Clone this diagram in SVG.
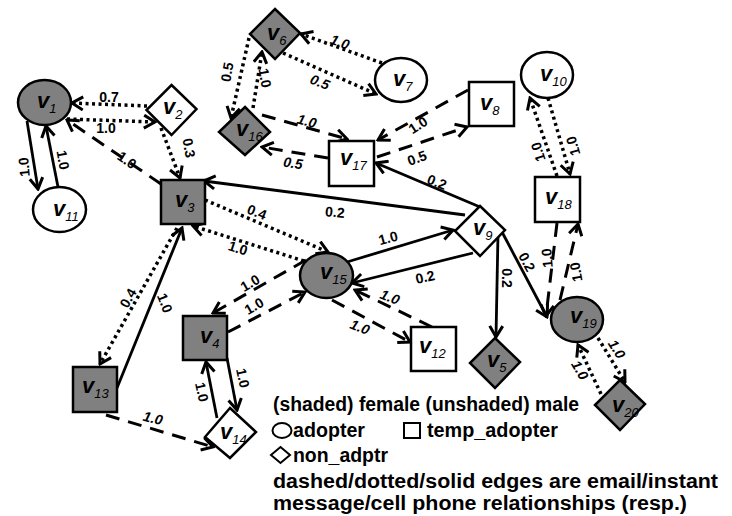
<svg xmlns="http://www.w3.org/2000/svg" width="732" height="516" viewBox="0 0 732 516">
  <style>
    .e { fill: none; stroke: #000; }
    .dash { stroke-width: 3; stroke-dasharray: 14 9; }
    .dot { stroke-width: 3.5; stroke-dasharray: 3 3.5; }
    .sol { stroke-width: 2.8; }
    .lbl { font-family: "Liberation Sans", Arial, sans-serif; font-size: 14px; font-weight: bold; text-anchor: middle; fill: #000; }
    .it { font-style: italic; }
    .nd { stroke: #000; stroke-width: 2.5; }
    .f { fill: #808080; }
    .m { fill: #fff; }
    .nl { font-family: "Liberation Sans", Arial, sans-serif; font-size: 22px; font-style: italic; font-weight: bold; fill: #000; }
    .sub { font-size: 13px; font-weight: normal; }
    .lg { font-family: "Liberation Sans", Arial, sans-serif; font-size: 20px; font-weight: bold; fill: #000; }
  </style>
  <defs>
    <marker id="arr" viewBox="0 0 14 16" refX="12" refY="8" markerWidth="14" markerHeight="16" markerUnits="userSpaceOnUse" orient="auto">
      <path d="M1,1.5 L12,8 L1,14.5" fill="none" stroke="#000" stroke-width="3" stroke-dasharray="none"/>
    </marker>
  </defs>
  <rect width="732" height="516" fill="#fff"/>

  <!-- connectors -->
  <g id="edges">
    <g marker-end="url(#arr)">
      <line class="e dot" x1="147" y1="106" x2="72" y2="103"/>
      <line class="e dot" x1="67" y1="119" x2="155" y2="122"/>
      <line class="e sol" x1="27" y1="121" x2="38" y2="189"/>
      <line class="e sol" x1="58" y1="187" x2="46" y2="126"/>
      <line class="e dot" x1="161" y1="128" x2="180" y2="178"/>
      <line class="e dash" x1="161" y1="184" x2="67" y2="120"/>
      <line class="e dot" x1="249" y1="38" x2="231" y2="118"/>
      <line class="e dot" x1="253" y1="108" x2="262" y2="52"/>
      <line class="e dot" x1="382" y1="63" x2="301" y2="34"/>
      <line class="e dot" x1="283" y1="53" x2="376" y2="94"/>
      <line class="e dash" x1="262" y1="115" x2="347" y2="139"/>
      <line class="e dash" x1="328" y1="158" x2="262" y2="147"/>
      <line class="e dash" x1="468" y1="90" x2="378" y2="140"/>
      <line class="e dash" x1="377" y1="157" x2="467" y2="127"/>
      <line class="e dot" x1="548" y1="98" x2="570" y2="174"/>
      <line class="e dot" x1="557" y1="176" x2="530" y2="98"/>
      <line class="e sol" x1="480" y1="207" x2="376" y2="163"/>
      <line class="e sol" x1="465" y1="215" x2="204" y2="181"/>
      <line class="e dot" x1="205" y1="200" x2="328" y2="252"/>
      <line class="e dot" x1="304" y1="261" x2="193" y2="226"/>
      <line class="e dot" x1="177" y1="228" x2="100" y2="364"/>
      <line class="e sol" x1="117" y1="388" x2="182" y2="228"/>
      <line class="e dash" x1="106" y1="415" x2="213" y2="447"/>
      <line class="e sol" x1="217" y1="418" x2="206" y2="362"/>
      <line class="e sol" x1="227" y1="358" x2="237" y2="410"/>
      <line class="e dash" x1="306" y1="260" x2="213" y2="313"/>
      <line class="e dash" x1="228" y1="332" x2="305" y2="292"/>
      <line class="e sol" x1="347" y1="262" x2="453" y2="230"/>
      <line class="e sol" x1="473" y1="253" x2="352" y2="283"/>
      <line class="e dash" x1="432" y1="327" x2="355" y2="290"/>
      <line class="e dash" x1="332" y1="300" x2="410" y2="342"/>
      <line class="e sol" x1="498" y1="234" x2="496" y2="337"/>
      <line class="e sol" x1="502" y1="232" x2="547" y2="317"/>
      <line class="e dash" x1="557" y1="223" x2="546" y2="316"/>
      <line class="e dash" x1="560" y1="300" x2="578" y2="224"/>
      <line class="e dot" x1="601" y1="394" x2="578" y2="345"/>
      <line class="e dot" x1="598" y1="338" x2="625" y2="382"/>
    </g>
    <g id="edge-labels">
      <text class="lbl" transform="translate(109,97)" dy="5">0.7</text>
      <text class="lbl" transform="translate(106,128)" dy="5">1.0</text>
      <text class="lbl" transform="translate(24,167) rotate(-95)" dy="5">1.0</text>
      <text class="lbl" transform="translate(63,160) rotate(80)" dy="5">1.0</text>
      <text class="lbl" transform="translate(189,148) rotate(80)" dy="5">0.3</text>
      <text class="lbl" transform="translate(127,160) rotate(35)" dy="5">1.0</text>
      <text class="lbl" transform="translate(227,72) rotate(-80)" dy="5">0.5</text>
      <text class="lbl" transform="translate(265,78) rotate(80)" dy="5">1.0</text>
      <text class="lbl it" transform="translate(340,42) rotate(20)" dy="5">1.0</text>
      <text class="lbl it" transform="translate(320,82) rotate(22)" dy="5">0.5</text>
      <text class="lbl it" transform="translate(307,121) rotate(15)" dy="5">1.0</text>
      <text class="lbl it" transform="translate(293,163) rotate(8)" dy="5">0.5</text>
      <text class="lbl" transform="translate(418,125) rotate(-33)" dy="5">1.0</text>
      <text class="lbl" transform="translate(417,158) rotate(-20)" dy="5">0.5</text>
      <text class="lbl" transform="translate(573,146) rotate(-106)" dy="5">1.0</text>
      <text class="lbl" transform="translate(538,152) rotate(-108)" dy="5">1.0</text>
      <text class="lbl" transform="translate(437,182) rotate(22)" dy="5">0.2</text>
      <text class="lbl" transform="translate(335,212) rotate(5)" dy="5">0.2</text>
      <text class="lbl" transform="translate(257,212) rotate(22)" dy="5">0.4</text>
      <text class="lbl" transform="translate(238,248) rotate(18)" dy="5">1.0</text>
      <text class="lbl" transform="translate(128,298) rotate(-60)" dy="5">0.4</text>
      <text class="lbl" transform="translate(165,303) rotate(68)" dy="5">1.0</text>
      <text class="lbl it" transform="translate(153,418) rotate(14)" dy="5">1.0</text>
      <text class="lbl" transform="translate(202,392) rotate(78)" dy="5">1.0</text>
      <text class="lbl" transform="translate(243,378) rotate(78)" dy="5">1.0</text>
      <text class="lbl" transform="translate(250,283) rotate(-30)" dy="5">1.0</text>
      <text class="lbl" transform="translate(254,306) rotate(-30)" dy="5">1.0</text>
      <text class="lbl" transform="translate(388,238) rotate(-15)" dy="5">1.0</text>
      <text class="lbl" transform="translate(425,277) rotate(-13)" dy="5">0.2</text>
      <text class="lbl it" transform="translate(390,297) rotate(22)" dy="5">1.0</text>
      <text class="lbl it" transform="translate(360,327) rotate(22)" dy="5">1.0</text>
      <text class="lbl" transform="translate(507,278) rotate(90)" dy="5">0.2</text>
      <text class="lbl" transform="translate(527,262) rotate(62)" dy="5">0.2</text>
      <text class="lbl" transform="translate(547,258) rotate(-95)" dy="5">1.0</text>
      <text class="lbl" transform="translate(576,272) rotate(-100)" dy="5">1.0</text>
      <text class="lbl it" transform="translate(580,370) rotate(60)" dy="5">1.0</text>
      <text class="lbl it" transform="translate(617,349) rotate(58)" dy="5">1.0</text>
    </g>
  </g>

  <!-- nodes -->
  <g id="v1"><ellipse class="nd f" cx="44.5" cy="102.5" rx="26.5" ry="22.5"/><text class="nl" x="37" y="108">v<tspan class="sub" dy="5">1</tspan></text></g>
  <g id="v2"><polygon class="nd m" points="171.5,85 196.5,109 171.5,135 146.5,110"/><text class="nl" x="163" y="114">v<tspan class="sub" dy="5">2</tspan></text></g>
  <g id="v3"><rect class="nd f" x="161" y="180" width="44" height="44"/><text class="nl" x="175" y="207">v<tspan class="sub" dy="5">3</tspan></text></g>
  <g id="v4"><rect class="nd f" x="183" y="316" width="44" height="44"/><text class="nl" x="200" y="343">v<tspan class="sub" dy="5">4</tspan></text></g>
  <g id="v5"><polygon class="nd f" points="495,338 520,362 495,388 470,363"/><text class="nl" x="487" y="367">v<tspan class="sub" dy="5">5</tspan></text></g>
  <g id="v6"><polygon class="nd f" points="275,9 300,33 275,59 250,34"/><text class="nl" x="267" y="40">v<tspan class="sub" dy="5">6</tspan></text></g>
  <g id="v7"><ellipse class="nd m" cx="401" cy="80" rx="26" ry="22"/><text class="nl" x="393" y="86">v<tspan class="sub" dy="5">7</tspan></text></g>
  <g id="v8"><rect class="nd m" x="469" y="82" width="45" height="44"/><text class="nl" x="480" y="110">v<tspan class="sub" dy="5">8</tspan></text></g>
  <g id="v9"><polygon class="nd m" points="480,206 505,230 480,256 455,231"/><text class="nl" x="473" y="235">v<tspan class="sub" dy="5">9</tspan></text></g>
  <g id="v10"><ellipse class="nd m" cx="547" cy="75" rx="26" ry="23"/><text class="nl" x="540" y="81">v<tspan class="sub" dy="5">10</tspan></text></g>
  <g id="v11"><ellipse class="nd m" cx="59.5" cy="209.5" rx="26.5" ry="22.5"/><text class="nl" x="53" y="216">v<tspan class="sub" dy="5">11</tspan></text></g>
  <g id="v12"><rect class="nd m" x="411" y="327" width="45" height="44"/><text class="nl" x="419" y="353">v<tspan class="sub" dy="5">12</tspan></text></g>
  <g id="v13"><rect class="nd f" x="73" y="367" width="44" height="45"/><text class="nl" x="82" y="393">v<tspan class="sub" dy="5">13</tspan></text></g>
  <g id="v14"><polygon class="nd m" points="230,408 256,432 230,458 205,437"/><text class="nl" x="220" y="439">v<tspan class="sub" dy="5">14</tspan></text></g>
  <g id="v15"><ellipse class="nd f" cx="326.5" cy="275.5" rx="26.5" ry="22.5"/><text class="nl" x="320" y="279">v<tspan class="sub" dy="5">15</tspan></text></g>
  <g id="v16"><polygon class="nd f" points="245,107 270,132 245,155 219,132"/><text class="nl" x="236" y="136">v<tspan class="sub" dy="5">16</tspan></text></g>
  <g id="v17"><rect class="nd m" x="329" y="141" width="45" height="45"/><text class="nl" x="340" y="165">v<tspan class="sub" dy="5">17</tspan></text></g>
  <g id="v18"><rect class="nd m" x="535" y="177" width="45" height="45"/><text class="nl" x="545" y="204">v<tspan class="sub" dy="5">18</tspan></text></g>
  <g id="v19"><ellipse class="nd f" cx="577" cy="319.5" rx="26" ry="22.5"/><text class="nl" x="570" y="323">v<tspan class="sub" dy="5">19</tspan></text></g>
  <g id="v20"><polygon class="nd f" points="620,380 645,404 620,430 595,405"/><text class="nl" x="612" y="412">v<tspan class="sub" dy="5">20</tspan></text></g>

  <!-- legend -->
  <g id="legend">
    <text class="lg" x="273" y="411" textLength="306" lengthAdjust="spacingAndGlyphs">(shaded) female (unshaded) male</text>
    <ellipse cx="282" cy="430.5" rx="9.5" ry="7.5" fill="none" stroke="#000" stroke-width="2"/>
    <text class="lg" x="293" y="437" textLength="72" lengthAdjust="spacingAndGlyphs">adopter</text>
    <rect x="404" y="423" width="16" height="15" fill="none" stroke="#000" stroke-width="2"/>
    <text class="lg" x="427" y="437" textLength="131" lengthAdjust="spacingAndGlyphs">temp_adopter</text>
    <polygon points="280.5,447 290,455 280.5,463 271,455" fill="none" stroke="#000" stroke-width="2"/>
    <text class="lg" x="293" y="462" textLength="95" lengthAdjust="spacingAndGlyphs">non_adptr</text>
    <text class="lg" x="273" y="488" textLength="445" lengthAdjust="spacingAndGlyphs">dashed/dotted/solid edges are email/instant</text>
    <text class="lg" x="273" y="510" textLength="414" lengthAdjust="spacingAndGlyphs">message/cell phone relationships (resp.)</text>
  </g>
</svg>
